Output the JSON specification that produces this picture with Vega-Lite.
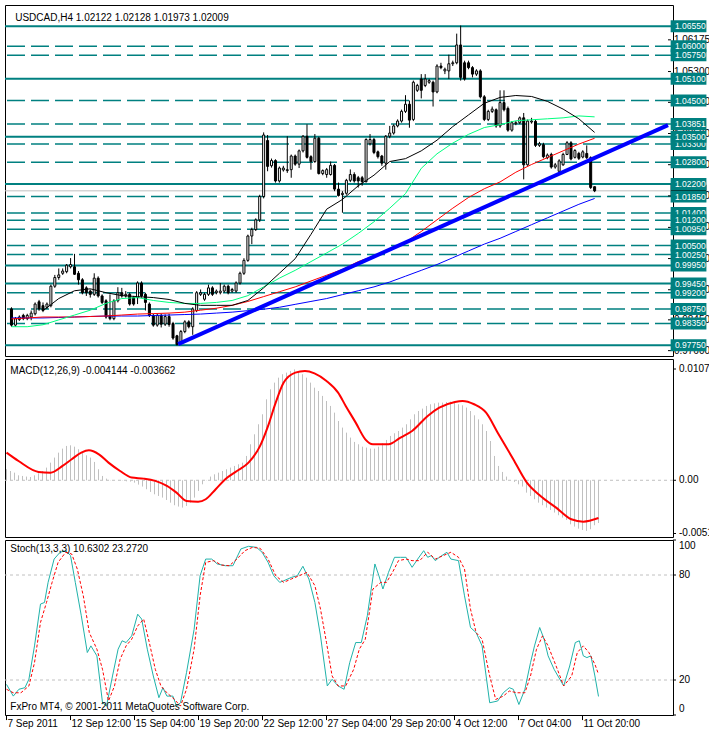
{
"$schema":"https://vega.github.io/schema/vega-lite/v6.json",
"background":"white",
"padding":{"left":2,"top":4,"right":0,"bottom":0},
"spacing":3,
"bounds":"flush",
"config":{
 "view":{"stroke":"black","strokeWidth":1},
 "axis":{"gridColor":"#c0c0c0","gridDash":[3,3],"gridWidth":1,"domain":false},
 "text":{"font":"Liberation Sans","fontSize":10}
},
"datasets":{
"bars":[
{"i":0,"o":0.98751,"h":0.98796,"l":0.9826,"c":0.98304},
{"i":1,"o":0.98304,"h":0.98528,"l":0.9826,"c":0.98483},
{"i":2,"o":0.98456,"h":0.98572,"l":0.9842,"c":0.98528},
{"i":3,"o":0.98572,"h":0.98617,"l":0.9844,"c":0.98483},
{"i":4,"o":0.98483,"h":0.98617,"l":0.9844,"c":0.98572},
{"i":5,"o":0.98528,"h":0.98707,"l":0.98438,"c":0.98635},
{"i":6,"o":0.98617,"h":0.9893,"l":0.98572,"c":0.98885},
{"i":7,"o":0.98948,"h":0.99,"l":0.987,"c":0.98751},
{"i":8,"o":0.98841,"h":0.9893,"l":0.98662,"c":0.98707},
{"i":9,"o":0.98796,"h":0.9893,"l":0.98751,"c":0.98885},
{"i":10,"o":0.98841,"h":0.99421,"l":0.98796,"c":0.99377},
{"i":11,"o":0.99377,"h":0.99689,"l":0.99332,"c":0.99618},
{"i":12,"o":0.99618,"h":0.99868,"l":0.99555,"c":0.99689},
{"i":13,"o":0.99734,"h":0.99868,"l":0.99689,"c":0.99796},
{"i":14,"o":0.99779,"h":0.9999,"l":0.99734,"c":0.99957},
{"i":15,"o":0.99913,"h":1.00154,"l":0.99868,"c":0.99975},
{"i":16,"o":0.99913,"h":1.0027,"l":0.99689,"c":0.99707},
{"i":17,"o":0.99734,"h":0.99796,"l":0.99421,"c":0.99555},
{"i":18,"o":0.99555,"h":0.996,"l":0.99153,"c":0.99198},
{"i":19,"o":0.99332,"h":0.99377,"l":0.99109,"c":0.99198},
{"i":20,"o":0.99243,"h":0.99287,"l":0.99064,"c":0.99153},
{"i":21,"o":0.99153,"h":0.99734,"l":0.99109,"c":0.996},
{"i":22,"o":0.996,"h":0.9965,"l":0.99064,"c":0.99109},
{"i":23,"o":0.99109,"h":0.99153,"l":0.98885,"c":0.9893},
{"i":24,"o":0.98975,"h":0.99019,"l":0.98483,"c":0.98528},
{"i":25,"o":0.98572,"h":0.99153,"l":0.98438,"c":0.98483},
{"i":26,"o":0.98483,"h":0.99019,"l":0.98438,"c":0.98975},
{"i":27,"o":0.98975,"h":0.9935,"l":0.9893,"c":0.99198},
{"i":28,"o":0.99198,"h":0.99332,"l":0.99064,"c":0.99109},
{"i":29,"o":0.99109,"h":0.99243,"l":0.99064,"c":0.99153},
{"i":30,"o":0.99153,"h":0.99198,"l":0.98841,"c":0.98885},
{"i":31,"o":0.99064,"h":0.99109,"l":0.98841,"c":0.98885},
{"i":32,"o":0.99064,"h":0.99511,"l":0.98885,"c":0.99466},
{"i":33,"o":0.99466,"h":0.99511,"l":0.99064,"c":0.99109},
{"i":34,"o":0.99153,"h":0.99198,"l":0.98707,"c":0.9893},
{"i":35,"o":0.98885,"h":0.9893,"l":0.98528,"c":0.98572},
{"i":36,"o":0.98572,"h":0.98617,"l":0.9826,"c":0.98304},
{"i":37,"o":0.98304,"h":0.98617,"l":0.9826,"c":0.98572},
{"i":38,"o":0.98572,"h":0.98617,"l":0.9824,"c":0.9833},
{"i":39,"o":0.9833,"h":0.986,"l":0.9828,"c":0.9854},
{"i":40,"o":0.9854,"h":0.98617,"l":0.9826,"c":0.9832},
{"i":41,"o":0.98349,"h":0.98394,"l":0.979,"c":0.97947},
{"i":42,"o":0.9801,"h":0.98036,"l":0.97742,"c":0.97768},
{"i":43,"o":0.978,"h":0.9817,"l":0.9778,"c":0.98126},
{"i":44,"o":0.98126,"h":0.98438,"l":0.98081,"c":0.98394},
{"i":45,"o":0.98394,"h":0.98438,"l":0.98215,"c":0.9826},
{"i":46,"o":0.9826,"h":0.98796,"l":0.98036,"c":0.98751},
{"i":47,"o":0.98707,"h":0.99243,"l":0.98662,"c":0.99198},
{"i":48,"o":0.99153,"h":0.99287,"l":0.99109,"c":0.99198},
{"i":49,"o":0.99019,"h":0.99198,"l":0.98975,"c":0.99153},
{"i":50,"o":0.99153,"h":0.99421,"l":0.99109,"c":0.99332},
{"i":51,"o":0.99332,"h":0.99377,"l":0.99109,"c":0.99153},
{"i":52,"o":0.99198,"h":0.99287,"l":0.99153,"c":0.99243},
{"i":53,"o":0.99198,"h":0.99466,"l":0.99153,"c":0.99243},
{"i":54,"o":0.99243,"h":0.99421,"l":0.99198,"c":0.99377},
{"i":55,"o":0.99377,"h":0.99421,"l":0.99153,"c":0.99198},
{"i":56,"o":0.99243,"h":0.99332,"l":0.99198,"c":0.99287},
{"i":57,"o":0.99243,"h":0.99511,"l":0.99198,"c":0.99466},
{"i":58,"o":0.99466,"h":0.99779,"l":0.99421,"c":0.99734},
{"i":59,"o":0.99734,"h":1.0015,"l":0.99689,"c":1.00091},
{"i":60,"o":1.00091,"h":1.008,"l":1.0005,"c":1.00762},
{"i":61,"o":1.00762,"h":1.0099,"l":1.00539,"c":1.00941},
{"i":62,"o":1.00941,"h":1.0125,"l":1.009,"c":1.01209},
{"i":63,"o":1.01209,"h":1.019,"l":1.0115,"c":1.01852},
{"i":64,"o":1.01852,"h":1.03621,"l":1.018,"c":1.03549},
{"i":65,"o":1.03397,"h":1.03549,"l":1.02549,"c":1.02683},
{"i":66,"o":1.02701,"h":1.029,"l":1.0265,"c":1.02844},
{"i":67,"o":1.02844,"h":1.0288,"l":1.02236,"c":1.02281},
{"i":68,"o":1.02281,"h":1.0268,"l":1.02236,"c":1.02638},
{"i":69,"o":1.02585,"h":1.027,"l":1.0254,"c":1.02638},
{"i":70,"o":1.02567,"h":1.03514,"l":1.02504,"c":1.02593},
{"i":71,"o":1.02593,"h":1.0301,"l":1.0237,"c":1.02969},
{"i":72,"o":1.02969,"h":1.0301,"l":1.027,"c":1.02745},
{"i":73,"o":1.02745,"h":1.0315,"l":1.02638,"c":1.03112},
{"i":74,"o":1.03112,"h":1.03549,"l":1.03067,"c":1.03514},
{"i":75,"o":1.03514,"h":1.03844,"l":1.029,"c":1.02933},
{"i":76,"o":1.02951,"h":1.0299,"l":1.02593,"c":1.02817},
{"i":77,"o":1.02817,"h":1.03576,"l":1.0278,"c":1.0346},
{"i":78,"o":1.0346,"h":1.035,"l":1.02459,"c":1.02486},
{"i":79,"o":1.02486,"h":1.026,"l":1.0244,"c":1.02567},
{"i":80,"o":1.02459,"h":1.0264,"l":1.0237,"c":1.02593},
{"i":81,"o":1.02459,"h":1.02817,"l":1.0243,"c":1.0271},
{"i":82,"o":1.0271,"h":1.0275,"l":1.02,"c":1.02057},
{"i":83,"o":1.02057,"h":1.02236,"l":1.01852,"c":1.01879},
{"i":84,"o":1.01905,"h":1.02,"l":1.01405,"c":1.01941},
{"i":85,"o":1.01941,"h":1.0234,"l":1.019,"c":1.02299},
{"i":86,"o":1.02299,"h":1.026,"l":1.0225,"c":1.02459},
{"i":87,"o":1.02459,"h":1.0252,"l":1.02236,"c":1.02281},
{"i":88,"o":1.0237,"h":1.0242,"l":1.021,"c":1.02281},
{"i":89,"o":1.0237,"h":1.0242,"l":1.0215,"c":1.02263},
{"i":90,"o":1.02263,"h":1.0346,"l":1.02236,"c":1.03424},
{"i":91,"o":1.03308,"h":1.03576,"l":1.0326,"c":1.03424},
{"i":92,"o":1.03424,"h":1.0347,"l":1.0302,"c":1.03067},
{"i":93,"o":1.03085,"h":1.0312,"l":1.029,"c":1.02951},
{"i":94,"o":1.02969,"h":1.03,"l":1.027,"c":1.02772},
{"i":95,"o":1.02772,"h":1.03549,"l":1.02593,"c":1.03514},
{"i":96,"o":1.03514,"h":1.038,"l":1.0346,"c":1.03603},
{"i":97,"o":1.03603,"h":1.03844,"l":1.0356,"c":1.038},
{"i":98,"o":1.038,"h":1.0398,"l":1.0376,"c":1.03934},
{"i":99,"o":1.03934,"h":1.0425,"l":1.0389,"c":1.04202},
{"i":100,"o":1.04201,"h":1.04648,"l":1.04157,"c":1.04398},
{"i":101,"o":1.04398,"h":1.045,"l":1.0375,"c":1.0396},
{"i":102,"o":1.03978,"h":1.0505,"l":1.03933,"c":1.05005},
{"i":103,"o":1.04782,"h":1.04961,"l":1.04737,"c":1.04916},
{"i":104,"o":1.05095,"h":1.05229,"l":1.04559,"c":1.04782},
{"i":105,"o":1.04916,"h":1.05229,"l":1.0487,"c":1.05095},
{"i":106,"o":1.05005,"h":1.051,"l":1.04961,"c":1.0505},
{"i":107,"o":1.05005,"h":1.0505,"l":1.04335,"c":1.04737},
{"i":108,"o":1.04737,"h":1.055,"l":1.047,"c":1.05452},
{"i":109,"o":1.05452,"h":1.05542,"l":1.05363,"c":1.05408},
{"i":110,"o":1.05318,"h":1.05408,"l":1.05229,"c":1.05363},
{"i":111,"o":1.05318,"h":1.05765,"l":1.05095,"c":1.05515},
{"i":112,"o":1.05515,"h":1.056,"l":1.05452,"c":1.05542},
{"i":113,"o":1.05542,"h":1.06346,"l":1.055,"c":1.06033},
{"i":114,"o":1.06033,"h":1.06569,"l":1.0505,"c":1.0514},
{"i":115,"o":1.05542,"h":1.056,"l":1.0505,"c":1.05095},
{"i":116,"o":1.05542,"h":1.056,"l":1.05363,"c":1.05408},
{"i":117,"o":1.05408,"h":1.0545,"l":1.0514,"c":1.05229},
{"i":118,"o":1.05229,"h":1.05363,"l":1.0518,"c":1.05318},
{"i":119,"o":1.05318,"h":1.05363,"l":1.04559,"c":1.04603},
{"i":120,"o":1.04603,"h":1.0465,"l":1.03933,"c":1.03978},
{"i":121,"o":1.03978,"h":1.04246,"l":1.03933,"c":1.04201},
{"i":122,"o":1.04201,"h":1.04335,"l":1.04157,"c":1.04264},
{"i":123,"o":1.04246,"h":1.04282,"l":1.0375,"c":1.03799},
{"i":124,"o":1.03799,"h":1.04782,"l":1.0375,"c":1.04443},
{"i":125,"o":1.04443,"h":1.04782,"l":1.042,"c":1.04246},
{"i":126,"o":1.04282,"h":1.04335,"l":1.0364,"c":1.03683},
{"i":127,"o":1.03683,"h":1.03933,"l":1.0364,"c":1.03889},
{"i":128,"o":1.03862,"h":1.03933,"l":1.0382,"c":1.03889},
{"i":129,"o":1.03889,"h":1.0406,"l":1.0385,"c":1.04023},
{"i":130,"o":1.04023,"h":1.04157,"l":1.02325,"c":1.02727},
{"i":131,"o":1.02727,"h":1.03978,"l":1.027,"c":1.03933},
{"i":132,"o":1.03907,"h":1.04023,"l":1.03862,"c":1.03933},
{"i":133,"o":1.03925,"h":1.03978,"l":1.0322,"c":1.03263},
{"i":134,"o":1.03263,"h":1.0336,"l":1.0322,"c":1.03308},
{"i":135,"o":1.03281,"h":1.03335,"l":1.02906,"c":1.02951},
{"i":136,"o":1.02924,"h":1.0304,"l":1.0288,"c":1.02995},
{"i":137,"o":1.03013,"h":1.0306,"l":1.0262,"c":1.02665},
{"i":138,"o":1.02665,"h":1.0278,"l":1.0262,"c":1.02727},
{"i":139,"o":1.02549,"h":1.0288,"l":1.025,"c":1.02835},
{"i":140,"o":1.02727,"h":1.0306,"l":1.027,"c":1.03013},
{"i":141,"o":1.03013,"h":1.0338,"l":1.02995,"c":1.03335},
{"i":142,"o":1.03335,"h":1.0338,"l":1.0285,"c":1.02888},
{"i":143,"o":1.02933,"h":1.0316,"l":1.029,"c":1.0312},
{"i":144,"o":1.0304,"h":1.03085,"l":1.0286,"c":1.02906},
{"i":145,"o":1.02942,"h":1.03129,"l":1.02906,"c":1.03085},
{"i":146,"o":1.0304,"h":1.03263,"l":1.02888,"c":1.02924},
{"i":147,"o":1.02924,"h":1.0296,"l":1.0206,"c":1.02102},
{"i":148,"o":1.02122,"h":1.02128,"l":1.01973,"c":1.02009}
],
"ma":[
{"i":0,"gr":0.9826,"rd":0.98475,"bl":0.98502},
{"i":4,"gr":0.9826,"rd":0.98502,"bl":0.98502},
{"i":8,"bk":0.98702,"gr":0.98314,"rd":0.98528,"bl":0.98502},
{"i":12,"bk":0.99037,"gr":0.98448,"rd":0.98528,"bl":0.98515},
{"i":16,"bk":0.99252,"gr":0.98582,"rd":0.98528,"bl":0.98528},
{"i":20,"bk":0.99306,"gr":0.98716,"rd":0.98542,"bl":0.98542},
{"i":24,"bk":0.99198,"gr":0.98903,"rd":0.98555,"bl":0.98555},
{"i":28,"bk":0.99118,"gr":0.99037,"rd":0.98582,"bl":0.98555},
{"i":32,"bk":0.99091,"gr":0.99064,"rd":0.98609,"bl":0.98555},
{"i":36,"bk":0.99064,"gr":0.98984,"rd":0.98622,"bl":0.98569},
{"i":40,"bk":0.99011,"gr":0.9893,"rd":0.98636,"bl":0.98582},
{"i":44,"bk":0.98903,"gr":0.98903,"rd":0.98662,"bl":0.98596},
{"i":48,"bk":0.9885,"gr":0.98903,"rd":0.98716,"bl":0.98609},
{"i":52,"bk":0.9885,"gr":0.9893,"rd":0.9877,"bl":0.98636},
{"i":56,"bk":0.9885,"gr":0.98984,"rd":0.9885,"bl":0.98662},
{"i":60,"bk":0.98984,"gr":0.99118,"rd":0.98957,"bl":0.98703},
{"i":64,"bk":0.99332,"gr":0.99359,"rd":0.99091,"bl":0.98743},
{"i":68,"bk":0.99734,"gr":0.996,"rd":0.99225,"bl":0.98796},
{"i":72,"bk":1.00136,"gr":0.99815,"rd":0.99359,"bl":0.98877},
{"i":76,"bk":1.00806,"gr":1.00056,"rd":0.9952,"bl":0.98957},
{"i":80,"bk":1.01503,"gr":1.00297,"rd":0.99681,"bl":0.99037},
{"i":84,"bk":1.01771,"gr":1.00539,"rd":0.99842,"bl":0.99145},
{"i":88,"bk":1.02147,"gr":1.00833,"rd":1.00056,"bl":0.99252},
{"i":92,"bk":1.02441,"gr":1.01155,"rd":1.00217,"bl":0.99359},
{"i":96,"bk":1.02817,"gr":1.0153,"rd":1.00405,"bl":0.99493},
{"i":100,"bk":1.02897,"gr":1.01932,"rd":1.00592,"bl":0.99654},
{"i":104,"bk":1.03112,"gr":1.02629,"rd":1.00887,"bl":0.99815},
{"i":108,"bk":1.03406,"gr":1.03031,"rd":1.01209,"bl":0.99976},
{"i":112,"bk":1.03781,"gr":1.03326,"rd":1.0153,"bl":1.00163},
{"i":116,"bk":1.04103,"gr":1.03567,"rd":1.01825,"bl":1.00351},
{"i":120,"bk":1.04425,"gr":1.03755,"rd":1.02066,"bl":1.00539},
{"i":124,"bk":1.04586,"gr":1.03835,"rd":1.02254,"bl":1.00699},
{"i":128,"bk":1.04639,"gr":1.03942,"rd":1.02522,"bl":1.00887},
{"i":132,"bk":1.04612,"gr":1.03969,"rd":1.02736,"bl":1.01075},
{"i":136,"bk":1.04478,"gr":1.03996,"rd":1.02924,"bl":1.01262},
{"i":140,"bk":1.04264,"gr":1.04023,"rd":1.03112,"bl":1.0145},
{"i":144,"bk":1.03996,"gr":1.04076,"rd":1.03299,"bl":1.01637},
{"i":148,"bk":1.03621,"gr":1.0405,"rd":1.0346,"bl":1.01798}
],
"trend":[{"i":42.3,"p":0.97778},{"i":166.625,"p":1.03822}],
"lvl":[
{"p":1.0655,"t":"1.06550","s":"s"},
{"p":1.06,"t":"1.06000","s":"d"},
{"p":1.0575,"t":"1.05750","s":"d"},
{"p":1.051,"t":"1.05100","s":"s"},
{"p":1.045,"t":"1.04500","s":"d"},
{"p":1.03851,"t":"1.03851","s":"d"},
{"p":1.035,"t":"1.03500","s":"s"},
{"p":1.033,"t":"1.03300","s":"d"},
{"p":1.028,"t":"1.02800","s":"d"},
{"p":1.022,"t":"1.02200","s":"s"},
{"p":1.0185,"t":"1.01850","s":"d"},
{"p":1.014,"t":"1.01400","s":"d"},
{"p":1.012,"t":"1.01200","s":"d"},
{"p":1.0095,"t":"1.00950","s":"d"},
{"p":1.005,"t":"1.00500","s":"d"},
{"p":1.0025,"t":"1.00250","s":"d"},
{"p":0.9995,"t":"0.99950","s":"s"},
{"p":0.9945,"t":"0.99450","s":"s"},
{"p":0.992,"t":"0.99200","s":"d"},
{"p":0.9875,"t":"0.98750","s":"d"},
{"p":0.9835,"t":"0.98350","s":"d"},
{"p":0.9775,"t":"0.97750","s":"s"}
],
"gl":[
{"p":1.06175,"t":"1.06175"},{"p":1.053,"t":"1.05300"},{"p":1.0445,"t":"1.04450"},{"p":1.0359,"t":"1.03590"},{"p":1.0273,"t":"1.02730"},
{"p":1.0187,"t":"1.01870"},{"p":1.01,"t":"1.01000"},{"p":1.0014,"t":"1.00140"},{"p":0.9928,"t":"0.99280"},{"p":0.9845,"t":"0.98450"},{"p":0.976,"t":"0.97600"}
],
"bid":[{"p":1.02009,"t":"1.02009"}],
"ml":[{"v":0.01079,"t":"0.01079"},{"v":0,"t":"0.00"},{"v":-0.00516,"t":"-0.00516"}],
"sl":[{"v":100,"t":"100"},{"v":80,"t":"80"},{"v":20,"t":"20"},{"v":0,"t":"0"}],
"xl":[{"i":0,"t":"7 Sep 2011"},{"i":16,"t":"12 Sep 12:00"},{"i":32,"t":"15 Sep 04:00"},{"i":48,"t":"19 Sep 20:00"},{"i":64,"t":"22 Sep 12:00"},{"i":80,"t":"27 Sep 04:00"},{"i":96,"t":"29 Sep 20:00"},{"i":112,"t":"4 Oct 12:00"},{"i":128,"t":"7 Oct 04:00"},{"i":144,"t":"11 Oct 20:00"}],
"macd":[
{"i":0,"v":0.00107},{"i":1,"v":0.0009},{"i":2,"v":0.00074},{"i":3,"v":0.00048},{"i":4,"v":0.00042},{"i":5,"v":0.00036},{"i":6,"v":0.00032},{"i":7,"v":0.00048},{"i":8,"v":0.00068},{"i":9,"v":0.0009},
{"i":10,"v":0.00123},{"i":11,"v":0.00171},{"i":12,"v":0.0022},{"i":13,"v":0.00268},{"i":14,"v":0.00307},{"i":15,"v":0.00333},{"i":16,"v":0.00339},{"i":17,"v":0.00326},{"i":18,"v":0.00301},{"i":19,"v":0.00268},
{"i":20,"v":0.00242},{"i":21,"v":0.0022},{"i":22,"v":0.00178},{"i":23,"v":0.00107},{"i":24,"v":0.00042},{"i":25,"v":0.00016},{"i":26,"v":0.00003},{"i":27,"v":0.0},{"i":28,"v":0.00003},{"i":29,"v":-0.00003},
{"i":30,"v":-0.0001},{"i":31,"v":-0.00013},{"i":32,"v":-0.00023},{"i":33,"v":-0.00042},{"i":34,"v":-0.00061},{"i":35,"v":-0.00087},{"i":36,"v":-0.00113},{"i":37,"v":-0.00136},{"i":38,"v":-0.00152},{"i":39,"v":-0.00168},
{"i":40,"v":-0.00191},{"i":41,"v":-0.00217},{"i":42,"v":-0.00242},{"i":43,"v":-0.00255},{"i":44,"v":-0.00265},{"i":45,"v":-0.00249},{"i":46,"v":-0.00217},{"i":47,"v":-0.00168},{"i":48,"v":-0.00103},{"i":49,"v":-0.00039},
{"i":50,"v":0.00003},{"i":51,"v":0.00036},{"i":52,"v":0.00058},{"i":53,"v":0.00074},{"i":54,"v":0.0009},{"i":55,"v":0.00107},{"i":56,"v":0.00123},{"i":57,"v":0.00139},{"i":58,"v":0.00155},{"i":59,"v":0.00171},
{"i":60,"v":0.00236},{"i":61,"v":0.00349},{"i":62,"v":0.00446},{"i":63,"v":0.00543},{"i":64,"v":0.0064},{"i":65,"v":0.00785},{"i":66,"v":0.00882},{"i":67,"v":0.00947},{"i":68,"v":0.00995},{"i":69,"v":0.01028},
{"i":70,"v":0.01044},{"i":71,"v":0.0106},{"i":72,"v":0.01075},{"i":73,"v":0.0105},{"i":74,"v":0.01028},{"i":75,"v":0.00995},{"i":76,"v":0.00947},{"i":77,"v":0.00898},{"i":78,"v":0.00866},{"i":79,"v":0.00818},
{"i":80,"v":0.00769},{"i":81,"v":0.00721},{"i":82,"v":0.00656},{"i":83,"v":0.00575},{"i":84,"v":0.00511},{"i":85,"v":0.00462},{"i":86,"v":0.00414},{"i":87,"v":0.00372},{"i":88,"v":0.00349},{"i":89,"v":0.00326},
{"i":90,"v":0.00317},{"i":91,"v":0.00307},{"i":92,"v":0.00307},{"i":93,"v":0.00326},{"i":94,"v":0.00359},{"i":95,"v":0.00391},{"i":96,"v":0.0043},{"i":97,"v":0.00456},{"i":98,"v":0.00478},{"i":99,"v":0.00511},
{"i":100,"v":0.00543},{"i":101,"v":0.00591},{"i":102,"v":0.0064},{"i":103,"v":0.00672},{"i":104,"v":0.00695},{"i":105,"v":0.00721},{"i":106,"v":0.00737},{"i":107,"v":0.00746},{"i":108,"v":0.00753},{"i":109,"v":0.00753},
{"i":110,"v":0.00759},{"i":111,"v":0.00763},{"i":112,"v":0.00753},{"i":113,"v":0.00737},{"i":114,"v":0.00727},{"i":115,"v":0.00705},{"i":116,"v":0.00672},{"i":117,"v":0.0063},{"i":118,"v":0.00591},{"i":119,"v":0.00543},
{"i":120,"v":0.00478},{"i":121,"v":0.00381},{"i":122,"v":0.00236},{"i":123,"v":0.00139},{"i":124,"v":0.00081},{"i":125,"v":0.00036},{"i":126,"v":0.00003},{"i":127,"v":-0.00016},{"i":128,"v":-0.00039},{"i":129,"v":-0.00061},
{"i":130,"v":-0.0012},{"i":131,"v":-0.00152},{"i":132,"v":-0.00184},{"i":133,"v":-0.00217},{"i":134,"v":-0.00242},{"i":135,"v":-0.00265},{"i":136,"v":-0.00288},{"i":137,"v":-0.00313},{"i":138,"v":-0.00339},{"i":139,"v":-0.00362},
{"i":140,"v":-0.00385},{"i":141,"v":-0.00427},{"i":142,"v":-0.00449},{"i":143,"v":-0.00469},{"i":144,"v":-0.00482},{"i":145,"v":-0.00491},{"i":146,"v":-0.00475},{"i":147,"v":-0.00436},{"i":148,"v":-0.00414}
],
"sig":[
{"i":0,"v":0.00268},{"i":3,"v":0.00187},{"i":8,"v":0.00081},{"i":11,"v":0.00074},{"i":14,"v":0.00139},{"i":16.3,"v":0.00204},{"i":18.7,"v":0.00268},{"i":20.6,"v":0.00291},{"i":23.1,"v":0.00252},{"i":25.5,"v":0.00171},
{"i":28.4,"v":0.0009},{"i":31.3,"v":0.00026},{"i":34.3,"v":0.00016},{"i":37.2,"v":-0.00006},{"i":40.1,"v":-0.00055},{"i":42.5,"v":-0.0012},{"i":45,"v":-0.002},{"i":47.9,"v":-0.00207},{"i":49.8,"v":-0.00184},{"i":52.3,"v":-0.00087},
{"i":54.7,"v":0.0001},{"i":57.6,"v":0.0009},{"i":60.5,"v":0.00171},{"i":63.4,"v":0.00333},{"i":65.4,"v":0.00527},{"i":67.3,"v":0.00753},{"i":69.3,"v":0.00947},{"i":72.2,"v":0.01044},{"i":74.6,"v":0.0106},{"i":77,"v":0.01037},
{"i":80,"v":0.00963},{"i":82.9,"v":0.0085},{"i":84.8,"v":0.00721},{"i":87.3,"v":0.00559},{"i":89.7,"v":0.00397},{"i":91.6,"v":0.00349},{"i":95.5,"v":0.00349},{"i":98.5,"v":0.00414},{"i":101.4,"v":0.00478},{"i":105.3,"v":0.00624},
{"i":108.2,"v":0.00704},{"i":112.1,"v":0.00759},{"i":114,"v":0.00769},{"i":116.9,"v":0.00737},{"i":119.9,"v":0.00656},{"i":122.8,"v":0.00462},{"i":126.7,"v":0.00204},{"i":130.1,"v":-0.00023},{"i":133.5,"v":-0.00152},{"i":137.4,"v":-0.00265},
{"i":141.2,"v":-0.00378},{"i":144.2,"v":-0.00401},{"i":148,"v":-0.00366}
],
"stm":[
{"i":0,"v":17.5},{"i":1.7,"v":10.8},{"i":3.1,"v":14.7},{"i":4.6,"v":15.6},{"i":5.6,"v":20.4},{"i":7,"v":39.5},{"i":8.5,"v":63.4},{"i":9.5,"v":64.3},{"i":10.4,"v":75.8},{"i":11.9,"v":89.1},
{"i":13.4,"v":93.0},{"i":14.8,"v":93.9},{"i":16,"v":91.1},{"i":17.2,"v":75.8},{"i":18.7,"v":56.7},{"i":20.2,"v":35.7},{"i":21.1,"v":39.5},{"i":22.6,"v":33.8},{"i":24,"v":7.0},{"i":25,"v":5.1},
{"i":26.5,"v":22.3},{"i":27.9,"v":37.6},{"i":28.9,"v":42.4},{"i":29.9,"v":41.4},{"i":31.3,"v":45.2},{"i":32.8,"v":57.6},{"i":33.8,"v":54.8},{"i":35.2,"v":37.6},{"i":36.7,"v":22.3},{"i":38.1,"v":9.9},
{"i":39.1,"v":15.6},{"i":40.1,"v":10.8},{"i":41.6,"v":10.8},{"i":42.5,"v":5.1},{"i":43.5,"v":7.0},{"i":45,"v":24.2},{"i":46.9,"v":48.9},{"i":48.4,"v":79.6},{"i":49.8,"v":89.1},{"i":51.3,"v":89.1},
{"i":52.7,"v":86.3},{"i":54.7,"v":85.3},{"i":56.6,"v":85.3},{"i":58.6,"v":94.9},{"i":60.5,"v":96.4},{"i":62.5,"v":95.8},{"i":63.9,"v":93.0},{"i":65.4,"v":87.2},{"i":66.8,"v":79.6},{"i":68.3,"v":75.8},
{"i":69.3,"v":76.7},{"i":71.2,"v":78.6},{"i":72.7,"v":79.6},{"i":74.1,"v":85.0},{"i":75.6,"v":77.7},{"i":77.1,"v":64.3},{"i":78.5,"v":45.2},{"i":80.2,"v":16.6},{"i":81.4,"v":20.4},{"i":82.9,"v":16.6},
{"i":84.4,"v":14.7},{"i":85.8,"v":29.9},{"i":87.3,"v":41.4},{"i":88.7,"v":41.4},{"i":90.2,"v":56.7},{"i":92.1,"v":86.3},{"i":93.1,"v":79.6},{"i":94.1,"v":72.0},{"i":95.5,"v":81.5},{"i":97,"v":90.1},
{"i":98.5,"v":90.1},{"i":99.9,"v":90.1},{"i":101.4,"v":84.4},{"i":102.8,"v":89.1},{"i":104.3,"v":93.9},{"i":105.3,"v":90.1},{"i":106.2,"v":91.1},{"i":107.2,"v":88.2},{"i":108.2,"v":90.1},{"i":110.1,"v":93.0},
{"i":111.1,"v":89.1},{"i":113,"v":88.2},{"i":114.5,"v":68.1},{"i":116,"v":50.0},{"i":117.4,"v":47.1},{"i":118.9,"v":39.5},{"i":120.8,"v":7.0},{"i":122.8,"v":8.0},{"i":124.2,"v":12.7},{"i":125.7,"v":15.6},
{"i":126.7,"v":14.7},{"i":128.1,"v":6.0},{"i":129.6,"v":14.7},{"i":131,"v":29.9},{"i":132,"v":39.5},{"i":133.3,"v":50.0},{"i":134.4,"v":43.3},{"i":135.4,"v":33.8},{"i":136.9,"v":26.1},{"i":139.3,"v":16.6},
{"i":140.8,"v":28.0},{"i":142.2,"v":41.4},{"i":143.2,"v":42.4},{"i":144.2,"v":33.8},{"i":145.1,"v":32.8},{"i":146.1,"v":33.8},{"i":147.1,"v":22.3},{"i":148,"v":10.6}
],
"sts":[
{"i":0,"v":14.7},{"i":1.7,"v":12.7},{"i":3.6,"v":12.7},{"i":5.6,"v":16.6},{"i":7,"v":29.9},{"i":8.5,"v":52.9},{"i":10,"v":64.3},{"i":11.4,"v":75.8},{"i":12.9,"v":87.2},{"i":14.8,"v":93.0},
{"i":16.3,"v":92.0},{"i":17.7,"v":83.4},{"i":19.2,"v":68.1},{"i":20.7,"v":47.1},{"i":22.6,"v":37.6},{"i":24,"v":26.1},{"i":25.5,"v":8.0},{"i":27,"v":16.6},{"i":28.4,"v":31.8},{"i":29.9,"v":39.5},
{"i":31.3,"v":43.3},{"i":32.8,"v":50.9},{"i":34.3,"v":54.8},{"i":35.7,"v":41.4},{"i":37.2,"v":26.1},{"i":38.6,"v":16.6},{"i":40.1,"v":12.7},{"i":42,"v":8.9},{"i":43.5,"v":5.1},{"i":45,"v":14.7},
{"i":46.9,"v":37.6},{"i":48.4,"v":68.1},{"i":49.8,"v":87.2},{"i":51.8,"v":88.2},{"i":53.7,"v":85.7},{"i":55.7,"v":85.3},{"i":57.6,"v":89.1},{"i":59.6,"v":93.9},{"i":61.5,"v":95.8},{"i":63.4,"v":95.3},
{"i":65.4,"v":89.1},{"i":67.3,"v":79.6},{"i":69.3,"v":75.8},{"i":71.2,"v":77.7},{"i":73.2,"v":79.6},{"i":75.1,"v":81.5},{"i":77.1,"v":73.9},{"i":78.5,"v":60.5},{"i":80,"v":41.4},{"i":81.4,"v":22.3},
{"i":82.9,"v":16.6},{"i":84.8,"v":16.6},{"i":86.8,"v":26.1},{"i":88.2,"v":37.6},{"i":89.7,"v":43.3},{"i":91.6,"v":72.0},{"i":93.6,"v":75.8},{"i":95,"v":75.8},{"i":96.5,"v":81.5},{"i":98,"v":88.2},
{"i":99.9,"v":89.1},{"i":101.4,"v":88.2},{"i":103.3,"v":88.2},{"i":105.3,"v":93.0},{"i":107.2,"v":89.1},{"i":109.2,"v":91.1},{"i":111.1,"v":93.0},{"i":113,"v":90.1},{"i":114.5,"v":83.4},{"i":116,"v":60.5},
{"i":117.4,"v":47.1},{"i":118.9,"v":43.3},{"i":120.8,"v":22.3},{"i":122.3,"v":8.9},{"i":124.2,"v":10.8},{"i":125.7,"v":13.7},{"i":127.6,"v":12.7},{"i":129.6,"v":12.7},{"i":131,"v":22.3},{"i":132.5,"v":37.6},
{"i":134,"v":45.2},{"i":135.4,"v":39.5},{"i":137.4,"v":28.0},{"i":139.3,"v":16.6},{"i":141.3,"v":22.3},{"i":142.7,"v":35.7},{"i":144.2,"v":39.5},{"i":145.6,"v":35.7},{"i":147.1,"v":29.0},{"i":148,"v":23.3}
]
},
"vconcat":[
{"width":668,"height":351,"layer":[
 {"data":{"name":"lvl"},"transform":[{"filter":"datum.s=='s'"}],"mark":{"type":"rule","color":"#008080","strokeWidth":2},
  "encoding":{"y":{"field":"p","type":"quantitative","scale":{"domain":[0.9759,1.06998],"nice":false,"zero":false},"axis":null}}},
 {"data":{"name":"lvl"},"transform":[{"filter":"datum.s=='d'"}],"mark":{"type":"rule","color":"#008080","strokeWidth":1.5,"strokeDash":[18,6]},
  "encoding":{"y":{"field":"p","type":"quantitative","scale":{"domain":[0.9759,1.06998],"nice":false,"zero":false},"axis":null}}},
 {"data":{"name":"bid"},"mark":{"type":"rule","color":"#c0c0c0","strokeWidth":1},
  "encoding":{"y":{"field":"p","type":"quantitative","scale":{"domain":[0.9759,1.06998],"nice":false,"zero":false},"axis":null}}},
 {"data":{"name":"bars"},"mark":{"type":"rule","color":"black","strokeWidth":1},
  "encoding":{
   "x":{"field":"i","type":"quantitative","scale":{"domain":[-0.375,166.625],"nice":false,"zero":false},"axis":{"values":[0,8,16,24,32,40,48,56,64,72,80,88,96,104,112,120,128,136,144,152,160],"grid":true,"labels":false,"ticks":false,"title":null}},
   "y":{"field":"l","type":"quantitative","scale":{"domain":[0.9759,1.06998],"nice":false,"zero":false},"axis":{"orient":"right","values":[1.06175,1.053,1.0445,1.0359,1.0273,1.0187,1.01,1.0014,0.9928,0.9845],"grid":true,"labels":false,"ticks":false,"title":null}},
   "y2":{"field":"h"}}},
 {"data":{"name":"bars"},"mark":{"type":"bar","width":2,"stroke":"black","strokeWidth":1},
  "encoding":{
   "x":{"field":"i","type":"quantitative","scale":{"domain":[-0.375,166.625],"nice":false,"zero":false},"axis":null},
   "y":{"field":"o","type":"quantitative","scale":{"domain":[0.9759,1.06998],"nice":false,"zero":false},"axis":null},
   "y2":{"field":"c"},
   "fill":{"condition":{"test":"datum.c >= datum.o","value":"white"},"value":"black"}}},
 {"data":{"name":"ma"},"mark":{"type":"line","color":"#0000ff","strokeWidth":1},
  "encoding":{"x":{"field":"i","type":"quantitative","scale":{"domain":[-0.375,166.625],"nice":false,"zero":false},"axis":null},
   "y":{"field":"bl","type":"quantitative","scale":{"domain":[0.9759,1.06998],"nice":false,"zero":false},"axis":null}}},
 {"data":{"name":"ma"},"mark":{"type":"line","color":"#ff0000","strokeWidth":1},
  "encoding":{"x":{"field":"i","type":"quantitative","scale":{"domain":[-0.375,166.625],"nice":false,"zero":false},"axis":null},
   "y":{"field":"rd","type":"quantitative","scale":{"domain":[0.9759,1.06998],"nice":false,"zero":false},"axis":null}}},
 {"data":{"name":"ma"},"mark":{"type":"line","color":"#00ff7f","strokeWidth":1},
  "encoding":{"x":{"field":"i","type":"quantitative","scale":{"domain":[-0.375,166.625],"nice":false,"zero":false},"axis":null},
   "y":{"field":"gr","type":"quantitative","scale":{"domain":[0.9759,1.06998],"nice":false,"zero":false},"axis":null}}},
 {"data":{"name":"ma"},"transform":[{"filter":"isValid(datum.bk)"}],"mark":{"type":"line","color":"black","strokeWidth":1},
  "encoding":{"x":{"field":"i","type":"quantitative","scale":{"domain":[-0.375,166.625],"nice":false,"zero":false},"axis":null},
   "y":{"field":"bk","type":"quantitative","scale":{"domain":[0.9759,1.06998],"nice":false,"zero":false},"axis":null}}},
 {"data":{"name":"trend"},"mark":{"type":"line","color":"#0000ff","strokeWidth":4},
  "encoding":{"x":{"field":"i","type":"quantitative","scale":{"domain":[-0.375,166.625],"nice":false,"zero":false},"axis":null},
   "y":{"field":"p","type":"quantitative","scale":{"domain":[0.9759,1.06998],"nice":false,"zero":false},"axis":null}}},
 {"data":{"values":[{"t":"USDCAD,H4 1.02122 1.02128 1.01973 1.02009"}]},"mark":{"type":"text","align":"left","baseline":"middle","color":"black"},
  "encoding":{"x":{"datum":0.95,"type":"quantitative","scale":{"domain":[-0.375,166.625],"nice":false,"zero":false},"axis":null},
   "y":{"datum":1.06783,"type":"quantitative","scale":{"domain":[0.9759,1.06998],"nice":false,"zero":false},"axis":null},
   "text":{"field":"t"}}},
 {"data":{"name":"gl"},"mark":{"type":"rule","color":"black","strokeWidth":1},
  "encoding":{"x":{"datum":166.625,"type":"quantitative","scale":{"domain":[-0.375,166.625],"nice":false,"zero":false},"axis":null},"x2":{"datum":167.375},
   "y":{"field":"p","type":"quantitative","scale":{"domain":[0.9759,1.06998],"nice":false,"zero":false},"axis":null}}},
 {"data":{"name":"gl"},"mark":{"type":"text","align":"left","baseline":"middle","color":"black"},
  "encoding":{"x":{"datum":168.125,"type":"quantitative","scale":{"domain":[-0.375,166.625],"nice":false,"zero":false},"axis":null},
   "y":{"field":"p","type":"quantitative","scale":{"domain":[0.9759,1.06998],"nice":false,"zero":false},"axis":null},
   "text":{"field":"t"}}},
 {"data":{"name":"bid"},"mark":{"type":"bar","height":12,"color":"black"},
  "encoding":{"x":{"datum":167.3,"type":"quantitative","scale":{"domain":[-0.375,166.625],"nice":false,"zero":false},"axis":null},"x2":{"datum":176.375},
   "y":{"field":"p","type":"quantitative","scale":{"domain":[0.9759,1.06998],"nice":false,"zero":false},"axis":null}}},
 {"data":{"name":"lvl"},"transform":[{"filter":"datum.p !== 1.035 && datum.p !== 1.012"}],"mark":{"type":"bar","height":12,"color":"#008080"},
  "encoding":{"x":{"datum":167.3,"type":"quantitative","scale":{"domain":[-0.375,166.625],"nice":false,"zero":false},"axis":null},"x2":{"datum":176.375},
   "y":{"field":"p","type":"quantitative","scale":{"domain":[0.9759,1.06998],"nice":false,"zero":false},"axis":null}}},
 {"data":{"name":"lvl"},"transform":[{"filter":"datum.p !== 1.035 && datum.p !== 1.012"}],"mark":{"type":"text","align":"left","baseline":"middle","color":"white","fontSize":8.5},
  "encoding":{"x":{"datum":168.375,"type":"quantitative","scale":{"domain":[-0.375,166.625],"nice":false,"zero":false},"axis":null},
   "y":{"field":"p","type":"quantitative","scale":{"domain":[0.9759,1.06998],"nice":false,"zero":false},"axis":null},
   "text":{"field":"t"}}},
 {"data":{"name":"lvl"},"transform":[{"filter":"datum.p === 1.035 || datum.p === 1.012"}],"mark":{"type":"bar","height":12,"color":"#008080"},
  "encoding":{"x":{"datum":167.3,"type":"quantitative","scale":{"domain":[-0.375,166.625],"nice":false,"zero":false},"axis":null},"x2":{"datum":176.375},
   "y":{"field":"p","type":"quantitative","scale":{"domain":[0.9759,1.06998],"nice":false,"zero":false},"axis":null}}},
 {"data":{"name":"lvl"},"transform":[{"filter":"datum.p === 1.035 || datum.p === 1.012"}],"mark":{"type":"text","align":"left","baseline":"middle","color":"white","fontSize":8.5},
  "encoding":{"x":{"datum":168.375,"type":"quantitative","scale":{"domain":[-0.375,166.625],"nice":false,"zero":false},"axis":null},
   "y":{"field":"p","type":"quantitative","scale":{"domain":[0.9759,1.06998],"nice":false,"zero":false},"axis":null},
   "text":{"field":"t"}}}
]},
{"width":668,"height":178,"layer":[
 {"data":{"values":[{"v":0}]},"mark":{"type":"rule","color":"#c0c0c0","strokeWidth":1,"strokeDash":[3,3]},
  "encoding":{"y":{"field":"v","type":"quantitative","scale":{"domain":[-0.0055,0.01176],"nice":false,"zero":false},"axis":null}}},
 {"data":{"name":"macd"},"mark":{"type":"rule","color":"#c0c0c0","strokeWidth":1},
  "encoding":{
   "x":{"field":"i","type":"quantitative","scale":{"domain":[-0.375,166.625],"nice":false,"zero":false},"axis":{"values":[0,8,16,24,32,40,48,56,64,72,80,88,96,104,112,120,128,136,144,152,160],"grid":true,"labels":false,"ticks":false,"title":null}},
   "y":{"field":"v","type":"quantitative","scale":{"domain":[-0.0055,0.01176],"nice":false,"zero":false},"axis":null},
   "y2":{"datum":0}}},
 {"data":{"name":"sig"},"mark":{"type":"line","color":"#ff0000","strokeWidth":2,"interpolate":"monotone"},
  "encoding":{"x":{"field":"i","type":"quantitative","scale":{"domain":[-0.375,166.625],"nice":false,"zero":false},"axis":null},
   "y":{"field":"v","type":"quantitative","scale":{"domain":[-0.0055,0.01176],"nice":false,"zero":false},"axis":null}}},
 {"data":{"values":[{"t":"MACD(12,26,9) -0.004144 -0.003662"}]},"mark":{"type":"text","align":"left","baseline":"middle","color":"black"},
  "encoding":{"x":{"datum":0.95,"type":"quantitative","scale":{"domain":[-0.375,166.625],"nice":false,"zero":false},"axis":null},
   "y":{"datum":0.0106,"type":"quantitative","scale":{"domain":[-0.0055,0.01176],"nice":false,"zero":false},"axis":null},
   "text":{"field":"t"}}},
 {"data":{"name":"ml"},"mark":{"type":"rule","color":"black","strokeWidth":1},
  "encoding":{"x":{"datum":166.625,"type":"quantitative","scale":{"domain":[-0.375,166.625],"nice":false,"zero":false},"axis":null},"x2":{"datum":167.375},
   "y":{"field":"v","type":"quantitative","scale":{"domain":[-0.0055,0.01176],"nice":false,"zero":false},"axis":null}}},
 {"data":{"name":"ml"},"mark":{"type":"text","align":"left","baseline":"middle","color":"black"},
  "encoding":{"x":{"datum":168.125,"type":"quantitative","scale":{"domain":[-0.375,166.625],"nice":false,"zero":false},"axis":null},
   "y":{"field":"v","type":"quantitative","scale":{"domain":[-0.0055,0.01176],"nice":false,"zero":false},"axis":null},
   "text":{"field":"t"}}}
]},
{"width":668,"height":175,"layer":[
 {"data":{"values":[{"v":20},{"v":80}]},"mark":{"type":"rule","color":"#c0c0c0","strokeWidth":1,"strokeDash":[3,3]},
  "encoding":{"y":{"field":"v","type":"quantitative","scale":{"domain":[0,100],"nice":false,"zero":false},"axis":null}}},
 {"data":{"name":"stm"},"mark":{"type":"line","color":"#20b2aa","strokeWidth":1},
  "encoding":{
   "x":{"field":"i","type":"quantitative","scale":{"domain":[-0.375,166.625],"nice":false,"zero":false},"axis":{"values":[0,8,16,24,32,40,48,56,64,72,80,88,96,104,112,120,128,136,144,152,160],"grid":true,"labels":false,"ticks":false,"title":null}},
   "y":{"field":"v","type":"quantitative","scale":{"domain":[0,100],"nice":false,"zero":false},"axis":null}}},
 {"data":{"name":"sts"},"mark":{"type":"line","color":"#ff0000","strokeWidth":1,"strokeDash":[3,2]},
  "encoding":{"x":{"field":"i","type":"quantitative","scale":{"domain":[-0.375,166.625],"nice":false,"zero":false},"axis":null},
   "y":{"field":"v","type":"quantitative","scale":{"domain":[0,100],"nice":false,"zero":false},"axis":null}}},
 {"data":{"values":[{"t":"Stoch(13,3,3) 10.6302 23.2720","y":94.8},{"t":"FxPro MT4, © 2001-2011 MetaQuotes Software Corp.","y":4.5}]},"mark":{"type":"text","align":"left","baseline":"middle","color":"black"},
  "encoding":{"x":{"datum":0.95,"type":"quantitative","scale":{"domain":[-0.375,166.625],"nice":false,"zero":false},"axis":null},
   "y":{"field":"y","type":"quantitative","scale":{"domain":[0,100],"nice":false,"zero":false},"axis":null},
   "text":{"field":"t"}}},
 {"data":{"name":"sl"},"mark":{"type":"rule","color":"black","strokeWidth":1},
  "encoding":{"x":{"datum":166.625,"type":"quantitative","scale":{"domain":[-0.375,166.625],"nice":false,"zero":false},"axis":null},"x2":{"datum":167.375},
   "y":{"field":"v","type":"quantitative","scale":{"domain":[0,100],"nice":false,"zero":false},"axis":null}}},
 {"data":{"name":"sl"},"transform":[{"filter":"datum.v == 20 || datum.v == 80"}],"mark":{"type":"text","align":"left","baseline":"middle","color":"black"},
  "encoding":{"x":{"datum":168.125,"type":"quantitative","scale":{"domain":[-0.375,166.625],"nice":false,"zero":false},"axis":null},
   "y":{"field":"v","type":"quantitative","scale":{"domain":[0,100],"nice":false,"zero":false},"axis":null},
   "text":{"field":"t"}}},
 {"data":{"name":"sl"},"transform":[{"filter":"datum.v == 100"}],"mark":{"type":"text","align":"left","baseline":"top","color":"black","dy":1},
  "encoding":{"x":{"datum":168.125,"type":"quantitative","scale":{"domain":[-0.375,166.625],"nice":false,"zero":false},"axis":null},
   "y":{"field":"v","type":"quantitative","scale":{"domain":[0,100],"nice":false,"zero":false},"axis":null},
   "text":{"field":"t"}}},
 {"data":{"name":"sl"},"transform":[{"filter":"datum.v == 0"}],"mark":{"type":"text","align":"left","baseline":"bottom","color":"black","dy":-1},
  "encoding":{"x":{"datum":168.125,"type":"quantitative","scale":{"domain":[-0.375,166.625],"nice":false,"zero":false},"axis":null},
   "y":{"field":"v","type":"quantitative","scale":{"domain":[0,100],"nice":false,"zero":false},"axis":null},
   "text":{"field":"t"}}},
 {"data":{"name":"xl"},"mark":{"type":"rule","color":"black","strokeWidth":1},
  "encoding":{"x":{"field":"i","type":"quantitative","scale":{"domain":[-0.375,166.625],"nice":false,"zero":false},"axis":null},
   "y":{"datum":0,"type":"quantitative","scale":{"domain":[0,100],"nice":false,"zero":false},"axis":null},"y2":{"datum":-2.9}}},
 {"data":{"name":"xl"},"mark":{"type":"text","align":"left","baseline":"middle","color":"black","dx":1},
  "encoding":{"x":{"field":"i","type":"quantitative","scale":{"domain":[-0.375,166.625],"nice":false,"zero":false},"axis":null},
   "y":{"datum":-4.9,"type":"quantitative","scale":{"domain":[0,100],"nice":false,"zero":false},"axis":null},
   "text":{"field":"t"}}}
]}
]
}
